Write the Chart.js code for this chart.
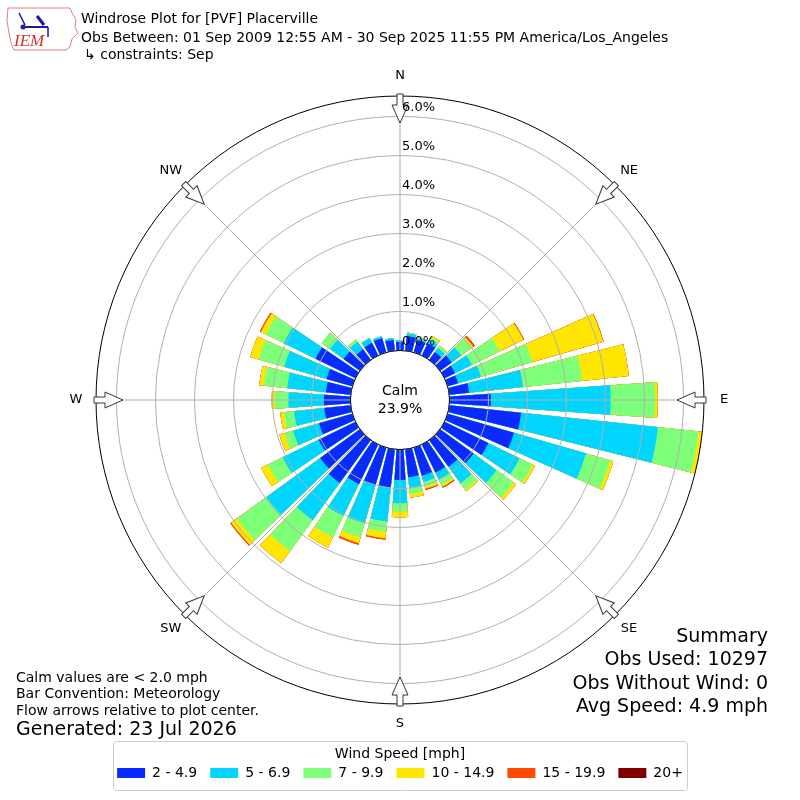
<!DOCTYPE html>
<html>
<head>
<meta charset="utf-8">
<title>Windrose PVF</title>
<script src="https://cdn.jsdelivr.net/npm/chart.js@4.4.0/dist/chart.umd.min.js"></script>
<style>
  html, body { margin: 0; padding: 0; background: #fff; }
  #wrap { position: relative; width: 800px; height: 800px; font-family: "DejaVu Sans", sans-serif; color: #000; overflow: hidden; }
  #box { position: absolute; left: 0; top: 0; width: 800px; height: 800px; }
  .txt { position: absolute; white-space: nowrap; line-height: 1; }
  .right { text-align: right; right: 32px; font-size: 19px; }
</style>
</head>
<body>
<div id="wrap">
  <div id="box"><canvas id="rose"></canvas></div>

  <svg style="position:absolute;left:4px;top:3px" width="76" height="50" viewBox="0 0 76 50">
    <path d="M4 5 L66 5 L68 10 L72 17 L71 24 L74 30 L68 36 L66 44 L62 47 L10 47 L7 40 L5 30 L3 18 Z" fill="none" stroke="#e08080" stroke-width="1"/>
    <line x1="18" y1="24" x2="44" y2="24" stroke="#1a1aa0" stroke-width="2"/>
    <circle cx="19" cy="24" r="2.5" fill="#1a1aa0"/>
    <line x1="15" y1="10" x2="21" y2="22" stroke="#1a1aa0" stroke-width="1.5"/>
    <line x1="33" y1="13" x2="40" y2="22" stroke="#1a1aa0" stroke-width="3"/>
    <line x1="44" y1="24" x2="44" y2="34" stroke="#1a1aa0" stroke-width="1.5"/>
    <text x="10" y="43" font-family="Liberation Serif, serif" font-style="italic" font-size="17" fill="#d03030">IEM</text>
  </svg>

  <div class="txt" style="left:81px;top:11px;font-size:14px">Windrose Plot for [PVF] Placerville</div>
  <div class="txt" style="left:81px;top:30px;font-size:14px">Obs Between: 01 Sep 2009 12:55 AM - 30 Sep 2025 11:55 PM America/Los_Angeles</div>
  <div class="txt" style="left:84px;top:47px;font-size:14px">↳ constraints: Sep</div>

  <div class="txt" style="left:16px;top:670px;font-size:14px">Calm values are &lt; 2.0 mph</div>
  <div class="txt" style="left:16px;top:686px;font-size:14px">Bar Convention: Meteorology</div>
  <div class="txt" style="left:16px;top:703px;font-size:14px">Flow arrows relative to plot center.</div>
  <div class="txt" style="left:16px;top:719px;font-size:19px">Generated: 23 Jul 2026</div>

  <div class="txt right" style="top:626px">Summary</div>
  <div class="txt right" style="top:649px">Obs Used: 10297</div>
  <div class="txt right" style="top:673px">Obs Without Wind: 0</div>
  <div class="txt right" style="top:696px">Avg Speed: 4.9 mph</div>
</div>

<script>
// direction bins (degrees, met convention) and speed bins
const dirDeg = [0, 10, 20, 30, 40, 50, 60, 70, 80, 90, 100, 110, 120, 130, 140, 150, 160, 170,
                180, 190, 200, 210, 220, 230, 240, 250, 260, 270, 280, 290, 300, 310, 320, 330, 340, 350];
const speedLabels = ["2 - 4.9", "5 - 6.9", "7 - 9.9", "10 - 14.9", "15 - 19.9", "20+"];
const speedColors = ["#0a2bff", "#00d5ff", "#7dff7a", "#ffe600", "#ff4a00", "#800000"];

// percent of obs in each speed bin, per direction
const spd2to5   = [0.22, 0.38, 0.33, 0.35, 0.25, 0.37, 0.30, 0.28, 0.51, 1.06, 1.85, 1.77, 1.25, 1.06, 0.85, 0.80, 0.75, 0.72,
                   0.78, 0.98, 1.00, 1.13, 1.36, 1.26, 1.05, 0.89, 0.68, 0.68, 0.64, 0.69, 1.14, 0.52, 0.34, 0.36, 0.38, 0.28];
const spd5to7   = [0.04, 0.07, 0.05, 0.10, 0.13, 0.30, 0.48, 0.61, 1.39, 3.07, 3.53, 1.92, 0.89, 0.73, 0.52, 0.20, 0.17, 0.28,
                   0.60, 0.88, 1.02, 0.91, 1.18, 1.71, 1.03, 0.69, 0.78, 0.91, 1.00, 1.13, 0.91, 0.43, 0.24, 0.13, 0.05, 0.05];
const spd7to10  = [0.00, 0.01, 0.02, 0.07, 0.06, 0.33, 0.79, 1.37, 1.52, 1.14, 1.04, 0.64, 0.37, 0.54, 0.20, 0.15, 0.13, 0.15,
                   0.21, 0.27, 0.37, 0.61, 0.98, 0.93, 0.42, 0.23, 0.26, 0.35, 0.60, 0.68, 0.51, 0.26, 0.07, 0.01, 0.00, 0.00];
const spd10to15 = [0.00, 0.01, 0.00, 0.04, 0.02, 0.05, 0.68, 1.89, 1.21, 0.07, 0.10, 0.09, 0.07, 0.08, 0.05, 0.05, 0.05, 0.10,
                   0.15, 0.17, 0.16, 0.29, 0.38, 0.18, 0.19, 0.14, 0.10, 0.08, 0.12, 0.23, 0.14, 0.00, 0.00, 0.00, 0.00, 0.00];
const spd15to20 = [0.00, 0.00, 0.00, 0.00, 0.00, 0.05, 0.02, 0.01, 0.00, 0.00, 0.00, 0.00, 0.00, 0.00, 0.00, 0.03, 0.03, 0.00,
                   0.00, 0.03, 0.04, 0.00, 0.00, 0.03, 0.00, 0.00, 0.00, 0.00, 0.00, 0.00, 0.03, 0.00, 0.00, 0.00, 0.00, 0.00];
const spd20plus = [0.00, 0.00, 0.00, 0.00, 0.00, 0.00, 0.00, 0.00, 0.00, 0.00, 0.00, 0.00, 0.00, 0.00, 0.00, 0.00, 0.00, 0.00,
                   0.00, 0.00, 0.00, 0.00, 0.00, 0.00, 0.00, 0.00, 0.00, 0.00, 0.00, 0.00, 0.00, 0.00, 0.00, 0.00, 0.00, 0.00];
const speedBins = [spd2to5, spd5to7, spd7to10, spd10to15, spd15to20, spd20plus];

const calmPct = 23.9;
const ringTicks = [0, 1, 2, 3, 4, 5, 6];
const compassLabels = ["N", "NE", "E", "SE", "S", "SW", "W", "NW"];

// radial axis: 0% sits on the calm circle, so the scale starts below zero
const R_MIN = -1.27;
const R_MAX = 6.525;
const BAR_DEG = 8;
const GAP_DEG = 2;
const FONT = '"DejaVu Sans", sans-serif';

Chart.defaults.font.family = FONT;
Chart.defaults.color = "#000";

// every direction is a bar followed by a small empty slot, so the wedges get white gaps
const labels = [];
dirDeg.forEach(d => { labels.push(d + "°"); labels.push(""); });

const datasets = speedLabels.map((lab, k) => {
    const data = [];
    dirDeg.forEach((d, i) => {
        let cum = 0;
        for (let j = 0; j <= k; j++) cum += speedBins[j][i];
        data.push(cum);
        data.push(R_MIN);
    });
    return {
        label: lab,
        data: data,
        backgroundColor: speedColors[k],
        borderWidth: 0,
        angle: ctx => (ctx.index % 2 === 0 ? BAR_DEG : GAP_DEG)
    };
});

const roseDecor = {
    id: "roseDecor",
    afterDraw(chart) {
        const sc = chart.scales.r;
        const ctx = chart.ctx;
        const cx = sc.xCenter, cy = sc.yCenter;
        const r0 = sc.getDistanceFromCenterForValue(0);
        const rOut = sc.drawingArea;
        ctx.save();

        // spokes every 45 deg
        ctx.strokeStyle = "#b0b0b0";
        ctx.lineWidth = 1;
        compassLabels.forEach((lab, i) => {
            const a = (i * 45 - 90) * Math.PI / 180;
            ctx.beginPath();
            ctx.moveTo(cx + r0 * Math.cos(a), cy + r0 * Math.sin(a));
            ctx.lineTo(cx + rOut * Math.cos(a), cy + rOut * Math.sin(a));
            ctx.stroke();
        });

        // calm circle
        ctx.beginPath();
        ctx.arc(cx, cy, r0, 0, Math.PI * 2);
        ctx.fillStyle = "#fff";
        ctx.fill();
        ctx.strokeStyle = "#000";
        ctx.stroke();
        ctx.fillStyle = "#000";
        ctx.font = "14px " + FONT;
        ctx.textAlign = "center";
        ctx.textBaseline = "middle";
        ctx.fillText("Calm", cx, cy - 9);
        ctx.fillText(calmPct.toFixed(1) + "%", cx, cy + 9);

        // frame
        ctx.beginPath();
        ctx.arc(cx, cy, rOut, 0, Math.PI * 2);
        ctx.strokeStyle = "#000";
        ctx.stroke();

        // flow arrows pointing to the center
        compassLabels.forEach((lab, i) => {
            const a = (i * 45 - 90) * Math.PI / 180;
            ctx.save();
            ctx.translate(cx, cy);
            ctx.rotate(a);
            ctx.beginPath();
            ctx.moveTo(rOut + 2, -3);
            ctx.lineTo(rOut - 9, -3);
            ctx.lineTo(rOut - 9, -8);
            ctx.lineTo(rOut - 27, 0);
            ctx.lineTo(rOut - 9, 8);
            ctx.lineTo(rOut - 9, 3);
            ctx.lineTo(rOut + 2, 3);
            ctx.closePath();
            ctx.fillStyle = "#fff";
            ctx.fill();
            ctx.strokeStyle = "#333";
            ctx.lineWidth = 1;
            ctx.stroke();
            ctx.restore();

            ctx.fillStyle = "#000";
            ctx.font = "13px " + FONT;
            ctx.fillText(lab, cx + (rOut + 20) * Math.cos(a), cy + (rOut + 20) * Math.sin(a));
        });

        // ring labels
        ctx.textAlign = "left";
        ctx.font = "13px " + FONT;
        ringTicks.forEach(v => {
            const r = sc.getDistanceFromCenterForValue(v);
            ctx.fillText(v.toFixed(1) + "%", cx + 2, cy - r - 9);
        });

        // legend frame
        ctx.beginPath();
        ctx.roundRect(113.5, 741.5, 574, 49, 3);
        ctx.strokeStyle = "#cccccc";
        ctx.stroke();
        ctx.restore();
    }
};

new Chart(document.getElementById("rose"), {
    type: "polarArea",
    data: { labels: labels, datasets: datasets },
    options: {
        responsive: true,
        maintainAspectRatio: false,
        animation: false,
        layout: { padding: { top: 96, bottom: 10, left: 0, right: 0 } },
        scales: {
            r: {
                min: R_MIN,
                max: R_MAX,
                startAngle: -BAR_DEG / 2,
                grid: { circular: true, color: "#b0b0b0", lineWidth: 1, z: 1 },
                ticks: { display: false, z: 1 },
                angleLines: { display: false },
                pointLabels: { display: false },
                afterBuildTicks: s => { s.ticks = ringTicks.map(v => ({ value: v })); }
            }
        },
        plugins: {
            tooltip: { enabled: false },
            legend: {
                position: "bottom",
                onClick: () => {},
                title: {
                    display: true,
                    text: "Wind Speed [mph]",
                    font: { size: 14, family: FONT },
                    color: "#000",
                    padding: { top: 43, bottom: -11 }
                },
                labels: {
                    boxWidth: 28,
                    boxHeight: 10,
                    padding: 13,
                    color: "#000",
                    font: { size: 14, family: FONT },
                    generateLabels: chart => chart.data.datasets.map((ds, i) => ({
                        text: ds.label,
                        fillStyle: ds.backgroundColor,
                        strokeStyle: ds.backgroundColor,
                        lineWidth: 0,
                        hidden: false,
                        datasetIndex: i
                    }))
                }
            }
        }
    },
    plugins: [roseDecor]
});
</script>
</body>
</html>
